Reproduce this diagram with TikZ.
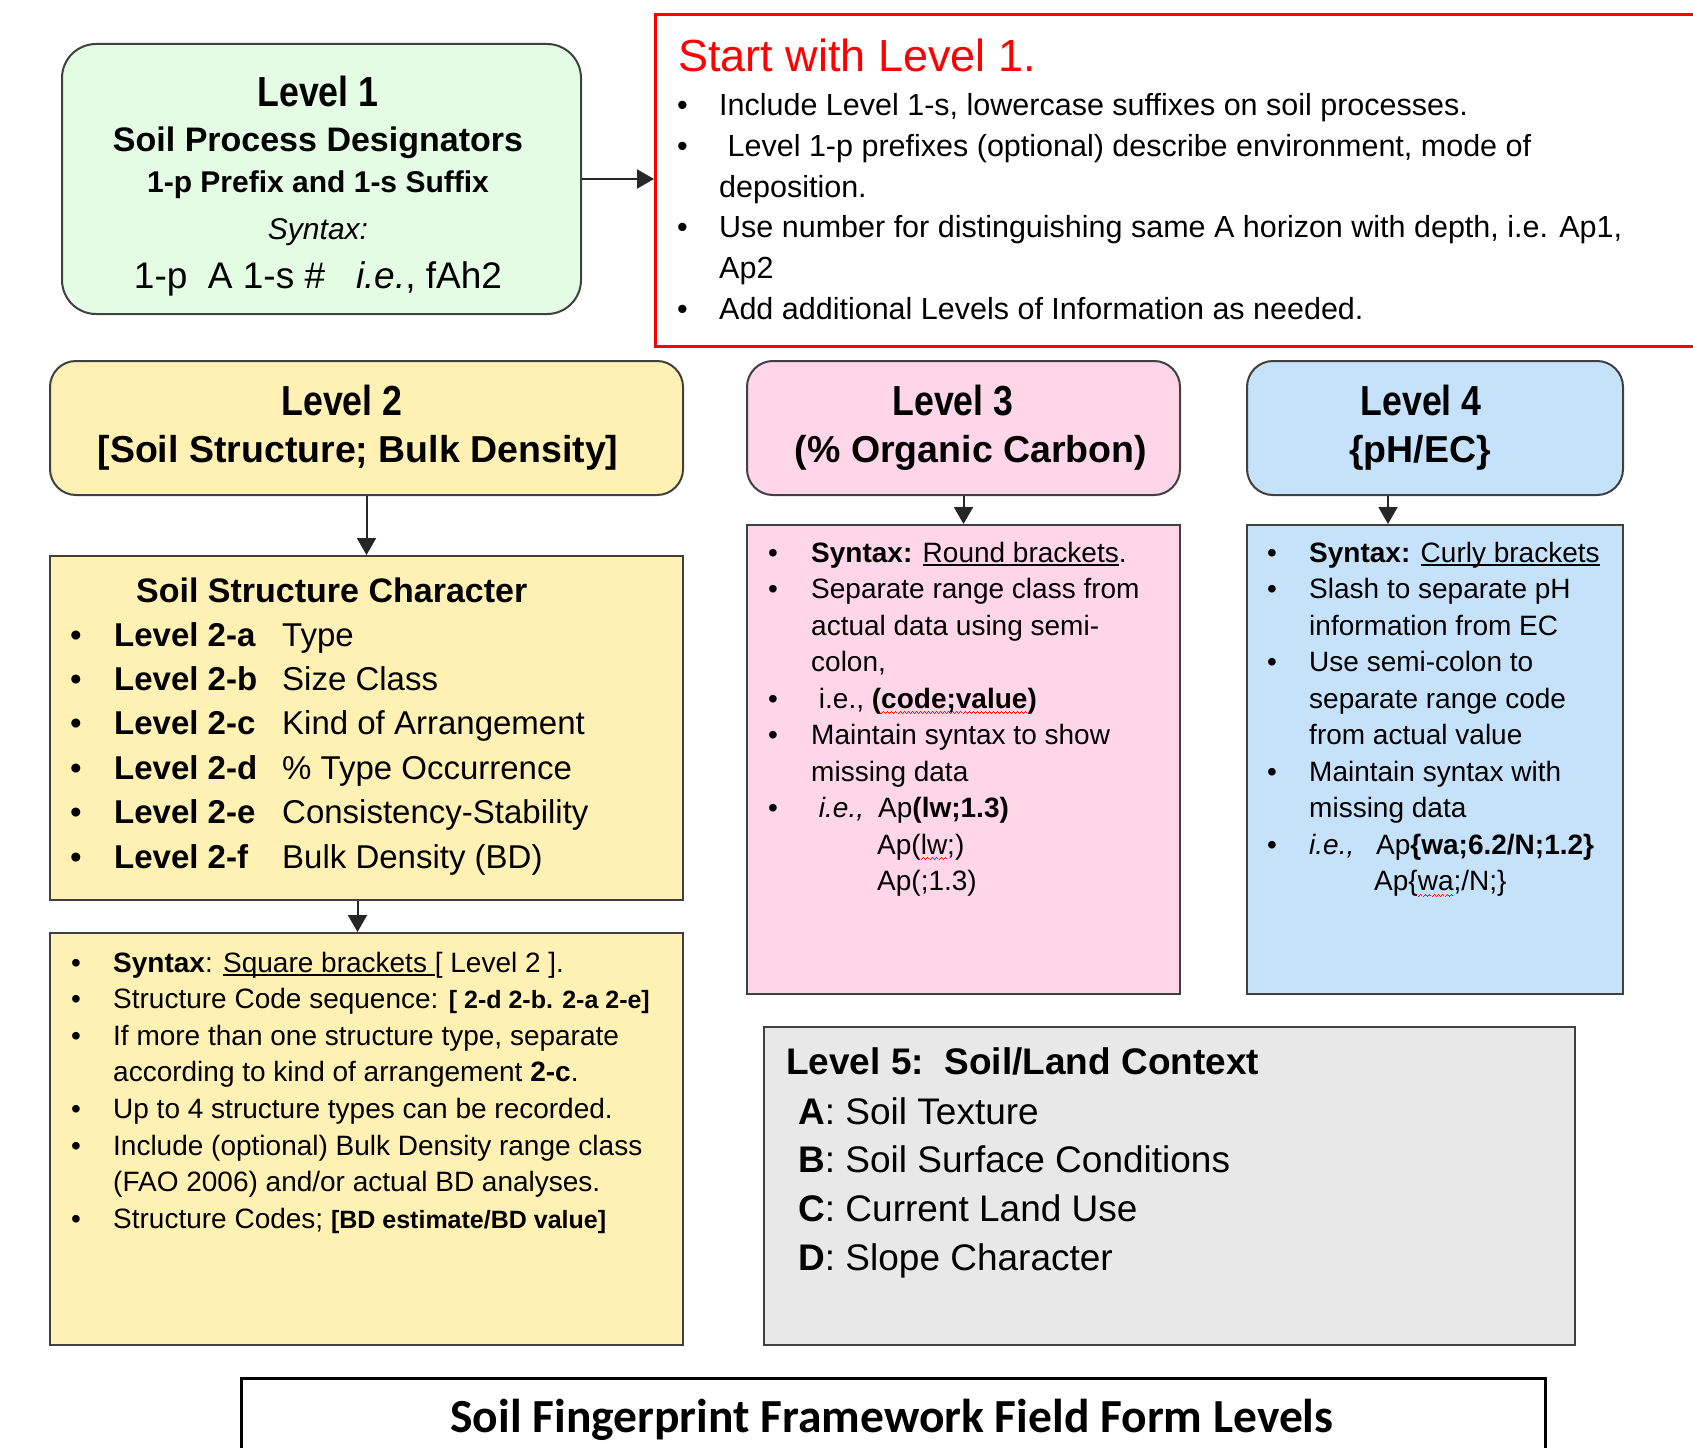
\documentclass[tikz,border=0pt]{standalone}
\usepackage{fontspec}
\usepackage{graphicx}
\usepackage{tikz}
\usetikzlibrary{arrows.meta}

\setmainfont{Liberation Sans}
\newfontfamily\titlefont{Carlito}

\definecolor{boxline}{HTML}{404040}
\definecolor{lonegreen}{HTML}{E3FCE3}
\definecolor{ltwoyellow}{HTML}{FFF0B4}
\definecolor{lthreepink}{HTML}{FFD5E8}
\definecolor{lfourblue}{HTML}{C6E2FA}
\definecolor{lfivegrey}{HTML}{E8E8E8}

\newcommand{\setfs}[2]{\fontsize{#1}{#2}\selectfont}
% underline and red spell-check wave
\newsavebox{\ulnbox}
\newcommand{\uln}[1]{\sbox{\ulnbox}{#1}\rlap{\rule[-3.5pt]{\wd\ulnbox}{1.5pt}}\usebox{\ulnbox}}
\newcommand{\wavebit}{\hbox{\rule[-6pt]{1pt}{1pt}\rule[-5pt]{1pt}{1pt}\rule[-4pt]{1pt}{1pt}\rule[-5pt]{1pt}{1pt}}}
\newcommand{\spellwave}[1]{\sbox{\ulnbox}{#1}\rlap{\color{red}\hbox to \wd\ulnbox{\xleaders\wavebit\hfill}}\usebox{\ulnbox}}

\begin{document}
\begin{tikzpicture}[x=1pt, y=-1pt,
	headbox/.style={draw=boxline, line width=2pt, rounded corners=26pt, anchor=north west, inner sep=0pt},
	bodybox/.style={draw=boxline, line width=2pt, anchor=north west, inner sep=0pt},
	txt/.style={anchor=base west, inner sep=0pt},
	ctxt/.style={anchor=base, inner sep=0pt},
	arr/.style={draw=black!85, line width=2pt, -{Triangle[length=17pt, width=19pt]}}]
	
	% page size
	\fill[white] (0,0) rectangle (1693,1447);
	\useasboundingbox (0,0) rectangle (1693,1447);
	
	% boxes
	\node[headbox, rounded corners=34pt, fill=lonegreen, minimum width=519pt, minimum height=270pt] (l1) at (61,43) {};
	\node[bodybox, draw=red, line width=3pt, minimum width=1070pt, minimum height=332pt] (hint) at (654,13) {};
	\node[headbox, fill=ltwoyellow, minimum width=633pt, minimum height=134pt] (l2h) at (49,360) {};
	\node[bodybox, fill=ltwoyellow, minimum width=633pt, minimum height=344pt] (l2c) at (49,555) {};
	\node[bodybox, fill=ltwoyellow, minimum width=633pt, minimum height=412pt] (l2s) at (49,932) {};
	\node[headbox, fill=lthreepink, minimum width=433pt, minimum height=134pt] (l3h) at (746,360) {};
	\node[bodybox, fill=lthreepink, minimum width=433pt, minimum height=469pt] (l3b) at (746,524) {};
	\node[headbox, fill=lfourblue, minimum width=376pt, minimum height=134pt] (l4h) at (1246,360) {};
	\node[bodybox, fill=lfourblue, minimum width=376pt, minimum height=469pt] (l4b) at (1246,524) {};
	\node[bodybox, fill=lfivegrey, minimum width=811pt, minimum height=318pt] (l5) at (763,1026) {};
	\node[bodybox, draw=black, line width=2.5pt, fill=white, minimum width=1304pt, minimum height=120pt] (ttl) at (240,1377) {};
	
	% arrows
	\draw[arr] (l1.east) -- (l1.east -| hint.west);
	\foreach \a/\b/\s in {l2h/l2c/0, l2c/l2s/-9, l3h/l3b/0, l4h/l4b/-47}
		\draw[arr] ([xshift=\s pt]\a.south) -- ([xshift=\s pt]\b.north);
	
	% Level 1
	\node[ctxt] (l1t) at (318,107) {\setfs{42}{48}\bfseries\scalebox{0.85}[1]{Level 1}};
	\node[ctxt] (l1a) at (318,152) {\setfs{34}{40}\bfseries Soil Process Designators};
	\node[ctxt] (l1b) at (318,193) {\setfs{30}{36}\bfseries 1-p Prefix and 1-s Suffix};
	\node[ctxt] (l1c) at (318,240) {\setfs{30}{36}\itshape Syntax:};
	\node[ctxt] (l1d) at (318,288) {\setfs{37}{44}1-p\ \ A 1-s \#\ \ \ \textit{i.e.}, fAh2};
	
	% start hint
	\node[txt, text=red] (hintt) at (678,72) {\setfs{45}{52}Start with Level 1.};
	\node[txt] (hintl) at (677,115.5) {\setfs{30.5}{40.8}\begin{tabular}[t]{@{}p{42pt}@{}l@{}}
		\textbullet & Include Level 1-s, lowercase suffixes on soil processes.\\
		\textbullet & \ Level 1-p prefixes (optional) describe environment, mode of\\
		 & deposition.\\
		\textbullet & Use number for distinguishing same A horizon with depth, i.e. Ap1,\\
		 & Ap2\\
		\textbullet & Add additional Levels of Information as needed.
	\end{tabular}};
	
	% Level 2
	\node[ctxt] (l2t) at (342,415) {\setfs{42}{48}\bfseries\scalebox{0.85}[1]{Level 2}};
	\node[ctxt] (l2u) at (358,462) {\setfs{37.5}{44}\bfseries [Soil Structure; Bulk Density]};
	\node[txt] (l2ch) at (136,602) {\setfs{34}{40}\bfseries Soil Structure Character};
	\node[txt] (l2cl) at (70,646) {\setfs{33}{44.4}\begin{tabular}[t]{@{}p{44pt}@{}p{168pt}@{}l@{}}
		\textbullet & \textbf{Level 2-a} & Type\\
		\textbullet & \textbf{Level 2-b} & Size Class\\
		\textbullet & \textbf{Level 2-c} & Kind of Arrangement\\
		\textbullet & \textbf{Level 2-d} & \% Type Occurrence\\
		\textbullet & \textbf{Level 2-e} & Consistency-Stability\\
		\textbullet & \textbf{Level 2-f} & Bulk Density (BD)
	\end{tabular}};
	\node[txt] (l2sl) at (71,972) {\setfs{28}{36.6}\begin{tabular}[t]{@{}p{42pt}@{}l@{}}
		\textbullet & \textbf{Syntax}: \uln{Square brackets\ }[ Level 2 ].\\
		\textbullet & Structure Code sequence: {\setfs{25}{36.6}\bfseries [ 2-d 2-b. 2-a 2-e]}\\
		\textbullet & If more than one structure type, separate\\
		 & according to kind of arrangement \textbf{2-c}.\\
		\textbullet & Up to 4 structure types can be recorded.\\
		\textbullet & Include (optional) Bulk Density range class\\
		 & (FAO 2006) and/or actual BD analyses.\\
		\textbullet & Structure Codes; {\setfs{25}{36.6}\bfseries [BD estimate/BD value]}
	\end{tabular}};
	
	% Level 3
	\node[ctxt] (l3t) at (953,415) {\setfs{42}{48}\bfseries\scalebox{0.85}[1]{Level 3}};
	\node[ctxt] (l3u) at (971,462) {\setfs{37.5}{44}\bfseries (\% Organic Carbon)};
	\node[txt] (l3l) at (768,562) {\setfs{28}{36.5}\begin{tabular}[t]{@{}p{43pt}@{}l@{}}
		\textbullet & \textbf{Syntax:} \uln{Round brackets}.\\
		\textbullet & Separate range class from\\
		 & actual data using semi-\\
		 & colon,\\
		\textbullet & \ i.e., \textbf{(\spellwave{code;value})}\\
		\textbullet & Maintain syntax to show\\
		 & missing data\\
		\textbullet & \makebox[67pt][l]{\ \textit{i.e.,}}Ap\textbf{(lw;1.3)}\\
		 & \hspace*{66pt}Ap(\spellwave{lw};)\\
		 & \hspace*{66pt}Ap(;1.3)
	\end{tabular}};
	
	% Level 4
	\node[ctxt] (l4t) at (1421,415) {\setfs{42}{48}\bfseries\scalebox{0.85}[1]{Level 4}};
	\node[ctxt] (l4u) at (1420,462) {\setfs{37.5}{44}\bfseries \{pH/EC\}};
	\node[txt] (l4l) at (1267,562) {\setfs{28}{36.5}\begin{tabular}[t]{@{}p{42pt}@{}l@{}}
		\textbullet & \textbf{Syntax:} \uln{Curly brackets}\\
		\textbullet & Slash to separate pH\\
		 & information from EC\\
		\textbullet & Use semi-colon to\\
		 & separate range code\\
		 & from actual value\\
		\textbullet & Maintain syntax with\\
		 & missing data\\
		\textbullet & \makebox[67pt][l]{\textit{i.e.,}}Ap\textbf{\{wa;6.2/N;1.2\}}\\
		 & \hspace*{65pt}Ap\{\spellwave{wa};/N;\}
	\end{tabular}};
	
	% Level 5
	\node[txt] (l5t) at (786,1074) {\setfs{37}{44}\bfseries Level 5:\ \ Soil/Land Context};
	\node[txt] (l5l) at (798,1124) {\setfs{37}{48.7}\begin{tabular}[t]{@{}l@{}}
		\textbf{A}: Soil Texture\\
		\textbf{B}: Soil Surface Conditions\\
		\textbf{C}: Current Land Use\\
		\textbf{D}: Slope Character
	\end{tabular}};
	
	% title
	\node[ctxt] (ttlt) at (892,1432) {\titlefont\setfs{47.5}{56}\bfseries Soil Fingerprint Framework Field Form Levels};
\end{tikzpicture}
\end{document}
